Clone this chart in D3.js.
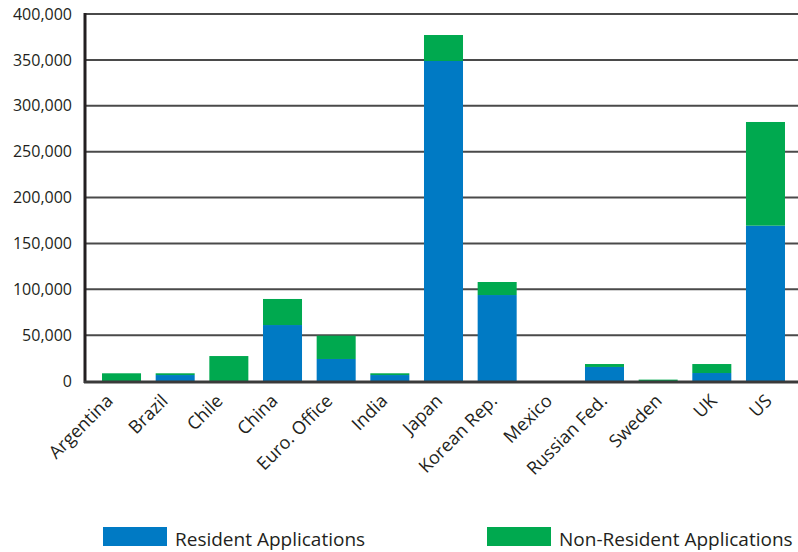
<!DOCTYPE html>
<html>
<head>
<meta charset="utf-8">
<script src="https://cdn.jsdelivr.net/npm/d3@7"></script>
<style>
  body { margin: 0; background: #fff; }
  svg text { font-family: "Open Sans", "Noto Sans", sans-serif; fill: #231f20; }
</style>
</head>
<body>
<div id="chart"></div>
<script>
//Datos
const categories = ['Argentina', 'Brazil', 'Chile', 'China', 'Euro. Office', 'India', 'Japan',
    'Korean Rep.', 'Mexico', 'Russian Fed.', 'Sweden', 'UK', 'US'];
const resident = [0, 6500, 0, 61000, 24000, 6500, 348800, 93700, 0, 15300, 0, 8700, 169300];
const nonResident = [8400, 1900, 27200, 28400, 25400, 1900, 28300, 14200, 0, 3200, 1500, 9800, 113000];
const yTicks = [0, 50000, 100000, 150000, 200000, 250000, 300000, 350000, 400000];
const seriesNames = ['Resident Applications', 'Non-Resident Applications'];

//Colores fijos
const COLOR_RES = '#007ac4',
COLOR_NONRES = '#00a94f';

let width = 798, height = 552;
let svg = d3.select('#chart').append('svg')
    .attr('width', width)
    .attr('height', height);

let x = d3.scaleBand()
    .domain(categories)
    .range([85, 802])
    .paddingInner(0.273)
    .paddingOuter(0.317);

//Las etiquetas no siguen exactamente el paso de las barras
let xLabel = d3.scalePoint()
    .domain(categories)
    .range([114, 773]);

let y = d3.scaleLinear()
    .domain([0, 400000])
    .range([381, 14]);

//Rejilla y eje Y
let yAxis = function(g) {
    g.call(d3.axisLeft(y).tickValues(yTicks).tickFormat(d3.format(',')).tickSize(0).tickPadding(13));
    g.call(function(g){g.select('.domain').remove()});
    g.selectAll('text').style('font-size', '16px');
}
svg.append('g')
    .attr('transform', 'translate(85,0)')
    .call(yAxis);

svg.append('g')
    .selectAll('line')
    .data(yTicks.filter(function(d) { return d > 0; }))
    .enter()
    .append('line')
    .attr('x1', 85)
    .attr('x2', width)
    .attr('y1', function(d) { return y(d); })
    .attr('y2', function(d) { return y(d); })
    .attr('stroke', '#4a4a4a')
    .attr('stroke-width', 2);

//Barras apiladas
let rows = categories.map(function(c, i) { return {cat: c, res: resident[i], non: nonResident[i]}; });

let bars = svg.append('g');
bars.selectAll('.res')
    .data(rows)
    .enter()
    .append('rect')
    .attr('class', 'res')
    .attr('x', function(d) { return x(d.cat); })
    .attr('width', x.bandwidth())
    .attr('y', function(d) { return y(d.res); })
    .attr('height', function(d) { return y(0) - y(d.res); })
    .attr('fill', COLOR_RES);

bars.selectAll('.non')
    .data(rows)
    .enter()
    .append('rect')
    .attr('class', 'non')
    .attr('x', function(d) { return x(d.cat); })
    .attr('width', x.bandwidth())
    .attr('y', function(d) { return y(d.res + d.non); })
    .attr('height', function(d) { return y(d.res) - y(d.res + d.non); })
    .attr('fill', COLOR_NONRES);

//Ejes
svg.append('line')
    .attr('x1', 85).attr('x2', 85)
    .attr('y1', 13).attr('y2', 383)
    .attr('stroke', '#231f20')
    .attr('stroke-width', 3);

svg.append('line')
    .attr('x1', 84).attr('x2', width)
    .attr('y1', 382).attr('y2', 382)
    .attr('stroke', '#3a3a3a')
    .attr('stroke-width', 3);

//Etiquetas X
svg.append('g')
    .selectAll('text')
    .data(categories)
    .enter()
    .append('text')
    .attr('transform', function(d) { return 'translate(' + xLabel(d) + ',402) rotate(-45)'; })
    .attr('text-anchor', 'end')
    .style('font-size', '18px')
    .text(function(d) { return d; });

//Leyenda
let legendX = [103, 487];
let legend = svg.append('g')
    .selectAll('g')
    .data(seriesNames)
    .enter()
    .append('g')
    .attr('transform', function(d, i) { return 'translate(' + legendX[i] + ',527)'; });

legend.append('rect')
    .attr('width', 64)
    .attr('height', 19)
    .attr('fill', function(d, i) { return i == 0 ? COLOR_RES : COLOR_NONRES; });

legend.append('text')
    .attr('x', 72)
    .attr('y', 19)
    .style('font-size', '19px')
    .text(function(d) { return d; });
</script>
</body>
</html>
